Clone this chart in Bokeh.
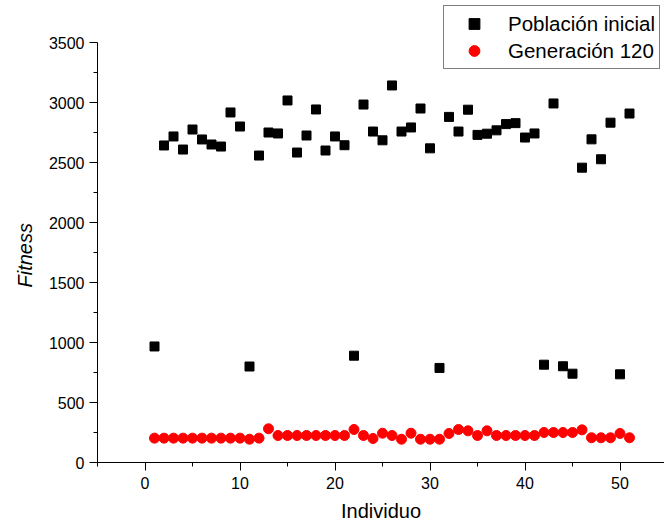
from bokeh.plotting import figure
from bokeh.models import FixedTicker, Range1d, Legend, LegendItem, Title
from bokeh.embed import file_html
from bokeh.resources import INLINE

individuo = list(range(1, 52))
poblacion_inicial = [967, 2642, 2717, 2608, 2775, 2692, 2650, 2633, 2917, 2800,
                     800, 2558, 2750, 2742, 3017, 2583, 2725, 2942, 2600, 2717,
                     2644, 890, 2983, 2758, 2685, 3142, 2758, 2792, 2950, 2618,
                     788, 2880, 2758, 2940, 2730, 2740, 2768, 2820, 2828, 2708,
                     2742, 815, 2992, 802, 740, 2457, 2693, 2527, 2832, 735, 2908]
generacion_120 = [203, 203, 203, 203, 203, 203, 203, 203, 203, 203,
                  194, 203, 281, 225, 225, 225, 225, 225, 225, 225,
                  225, 275, 225, 200, 244, 225, 194, 244, 194, 194,
                  194, 242, 275, 264, 225, 264, 225, 225, 225, 225,
                  225, 250, 250, 250, 250, 272, 206, 206, 206, 242, 206]
x_ticks = [0, 10, 20, 30, 40, 50]
x_minor = [-5, 5, 15, 25, 35, 45, 55]
y_ticks = [0, 500, 1000, 1500, 2000, 2500, 3000, 3500]
y_minor = [250, 750, 1250, 1750, 2250, 2750, 3250]

FONT = "Liberation Sans"

p = figure(width=664, height=526, output_backend="svg", toolbar_location=None,
           x_range=Range1d(-5, -5 + 567 / 9.5), y_range=Range1d(0, 3850),
           min_border_left=97, min_border_right=0, min_border_top=0,
           min_border_bottom=64)
p.outline_line_color = None
p.xgrid.visible = False
p.ygrid.visible = False

r1 = p.scatter(individuo, poblacion_inicial, marker="square", size=9,
               fill_color="black", line_color="black")
r2 = p.scatter(individuo, generacion_120, marker="circle", size=10,
               fill_color="#ff0000", line_color="#ff0000")

legend = Legend(items=[LegendItem(label="Población inicial", renderers=[r1]),
                       LegendItem(label="Generación 120", renderers=[r2])],
                location=(346, 393))
legend.label_text_font = FONT
legend.label_text_font_size = "20.5px"
legend.label_text_color = "black"
legend.border_line_color = "black"
legend.border_line_width = 1
legend.background_fill_alpha = 1
legend.padding = 4
legend.margin = 0
legend.spacing = 0
legend.glyph_width = 52
legend.glyph_height = 27
legend.label_height = 27
legend.label_standoff = 8
p.add_layout(legend, "center")

for ax in (p.xaxis[0], p.yaxis[0]):
    ax.major_label_text_font = FONT
    ax.major_label_text_font_size = "16px"
    ax.major_label_text_color = "black"
    ax.axis_label_text_font = FONT
    ax.axis_label_text_font_size = "20px"
    ax.axis_label_text_color = "black"
    ax.axis_line_color = "black"
    ax.major_tick_line_color = "black"
    ax.minor_tick_line_color = "black"
    ax.major_tick_in = 0
    ax.major_tick_out = 8
    ax.minor_tick_in = 0
    ax.minor_tick_out = 4

p.xaxis.ticker = FixedTicker(ticks=x_ticks, minor_ticks=x_minor)
p.yaxis.ticker = FixedTicker(ticks=y_ticks, minor_ticks=y_minor)
p.yaxis.bounds = (0, 3500)
p.xaxis.axis_label = "Individuo"
p.xaxis.axis_label_text_font_style = "normal"
p.xaxis.major_label_standoff = 6
p.yaxis.major_label_standoff = 5
p.xaxis.axis_label_standoff = 8

y_title = Title(text="Fitness", align="left", offset=175,
                text_font=FONT, text_font_size="20px",
                text_font_style="italic", text_color="black", standoff=19)
p.add_layout(y_title, "left")

open("out.html", "w").write(file_html(p, INLINE))
